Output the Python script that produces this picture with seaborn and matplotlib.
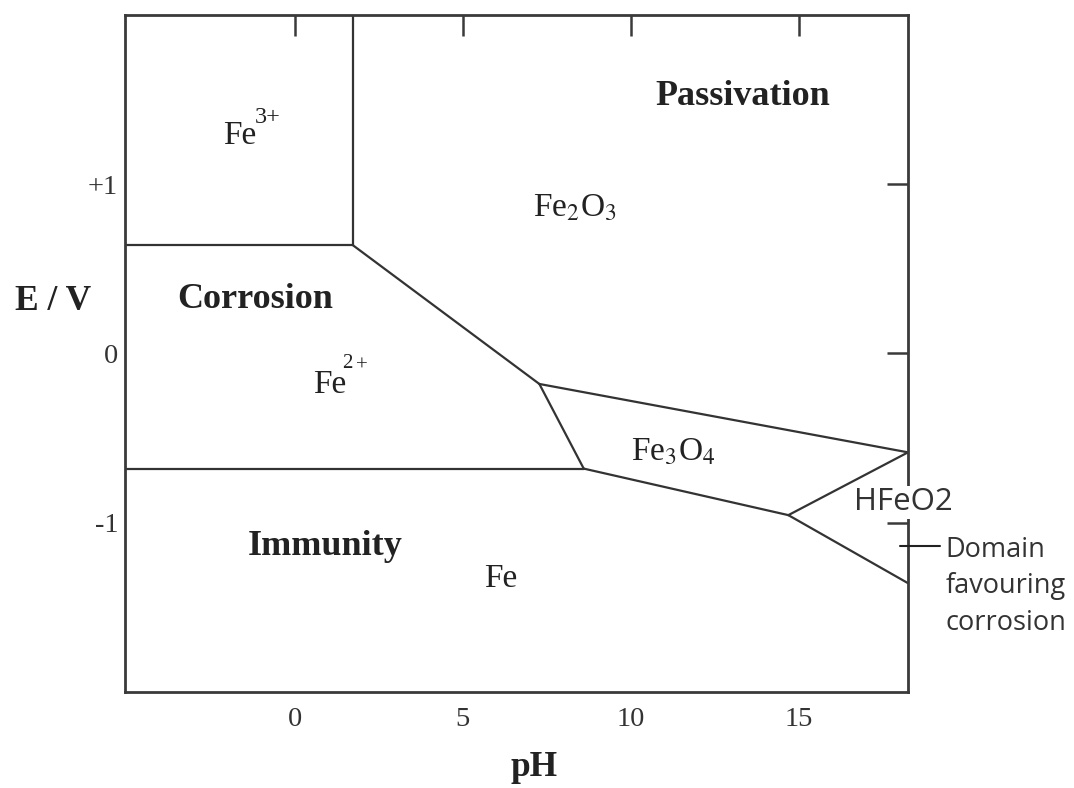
import matplotlib
matplotlib.use("Agg")
import matplotlib.pyplot as plt
import seaborn as sns
import pandas as pd

# ---- data ----
# boundary segments of the Fe Pourbaix diagram (pH, E/V)
seg_names = ["Fe3+/Fe2O3", "Fe3+/Fe2+", "Fe2+/Fe2O3", "Fe2+/Fe3O4", "Fe2+/Fe",
             "Fe2O3/Fe3O4", "Fe3O4/Fe", "Fe3O4/HFeO2", "HFeO2/Fe"]
seg_ph = [[1.73, 1.73], [-5.05, 1.73], [1.73, 7.28], [7.28, 8.60], [-5.05, 8.60],
          [7.28, 18.25], [8.60, 14.69], [14.69, 18.25], [14.69, 18.25]]
seg_E = [[2.0, 0.64], [0.64, 0.64], [0.64, -0.18], [-0.18, -0.68], [-0.68, -0.68],
         [-0.18, -0.584], [-0.68, -0.955], [-0.955, -0.584], [-0.955, -1.357]]

ph_ticks = [0, 5, 10, 15]
ph_ticklabels = ["0", "5", "10", "15"]
e_ticks = [1, 0, -1]
e_ticklabels = ["+1", "0", "-1"]

note_ph = [18.02, 19.21]
note_E = [-1.135, -1.135]

rows = []
for name, xs, ys in zip(seg_names, seg_ph, seg_E):
    for i, (x, y) in enumerate(zip(xs, ys)):
        rows.append({"segment": name, "order": i, "pH": x, "E": y})
df = pd.DataFrame(rows)

# ---- style ----
sns.set_theme(style="white")
plt.rcParams["font.family"] = ["Liberation Serif", "DejaVu Serif"]
plt.rcParams["mathtext.fontset"] = "stix"

LC = "#333333"
TC = "#222222"
fig = plt.figure(figsize=(10.74, 7.88), dpi=100)
ax = fig.add_axes([125 / 1074, 1 - 692 / 788, (908 - 125) / 1074, (692 - 15) / 788])

sns.lineplot(data=df, x="pH", y="E", units="segment", estimator=None, sort=False,
             color=LC, linewidth=1.6, ax=ax, legend=False)

ax.set_xlim(-5.05, 18.25)
ax.set_ylim(-2.0, 2.0)

for s in ax.spines.values():
    s.set_visible(True)
    s.set_color("#3a3a3a")
    s.set_linewidth(2.0)

ax.set_xticks(ph_ticks, labels=ph_ticklabels)
ax.set_yticks(e_ticks, labels=e_ticklabels)
ax.tick_params(axis="both", direction="in", length=15, width=1.8, color="#3a3a3a",
               top=True, right=True, labelsize=20.5, labelcolor="#333333")
ax.tick_params(axis="x", pad=11)
ax.tick_params(axis="y", pad=5)
ax.set_xlabel("")
ax.set_ylabel("")

# axis titles
fig.text(53 / 1074, 1 - 302 / 788, "E / V", fontsize=25.5, fontweight="bold",
         ha="center", va="center", color=TC)
fig.text(534 / 1074, 1 - 768 / 788, "pH", fontsize=25.5, fontweight="bold",
         ha="center", va="center", color=TC)

# region labels
bold = dict(fontsize=26, fontweight="bold", ha="center", va="center", color=TC)
ax.text(13.32, 1.52, "Passivation", **bold)
ax.text(-1.18, 0.32, "Corrosion", **bold)
ax.text(0.91, -1.14, "Immunity", **bold)

norm = dict(fontsize=24, color=TC)
ax.text(-2.14, 1.235, "Fe", ha="left", va="baseline", **norm)
ax.annotate("3+", xy=(-2.14, 1.235), xytext=(23, 15.5), textcoords="offset points",
            ha="left", va="baseline", fontsize=17.5, color=TC)
ax.text(0.55, -0.235, "Fe", ha="left", va="baseline", **norm)
ax.annotate("2", xy=(0.55, -0.235), xytext=(21, 18), textcoords="offset points",
            ha="left", va="baseline", fontsize=15, color=TC)
ax.annotate("+", xy=(0.55, -0.235), xytext=(31, 16), textcoords="offset points",
            ha="left", va="baseline", fontsize=15, color=TC)
ax.text(7.1, 0.81, r"Fe$_2$O$_3$", ha="left", va="baseline", **norm)
ax.text(10.0, -0.635, r"Fe$_3$O$_4$", ha="left", va="baseline", **norm)
ax.text(6.12, -1.33, "Fe", ha="center", va="center", **norm)

ax.text(18.11, -0.88, "HFeO2", ha="center", va="center", fontsize=22.5,
        family=["Open Sans", "DejaVu Sans"], color="#333333", clip_on=False, zorder=5,
        bbox=dict(facecolor="white", edgecolor="none", pad=1.0))

ax.plot(note_ph, note_E, color=TC, linewidth=1.5, clip_on=False, zorder=6)
ax.text(19.36, -1.375, "Domain\nfavouring\ncorrosion", ha="left", va="center",
        fontsize=19.5, linespacing=1.4, family=["Open Sans", "DejaVu Sans"],
        color="#333333", clip_on=False)

fig.savefig("out.png", dpi=100, facecolor="white")
